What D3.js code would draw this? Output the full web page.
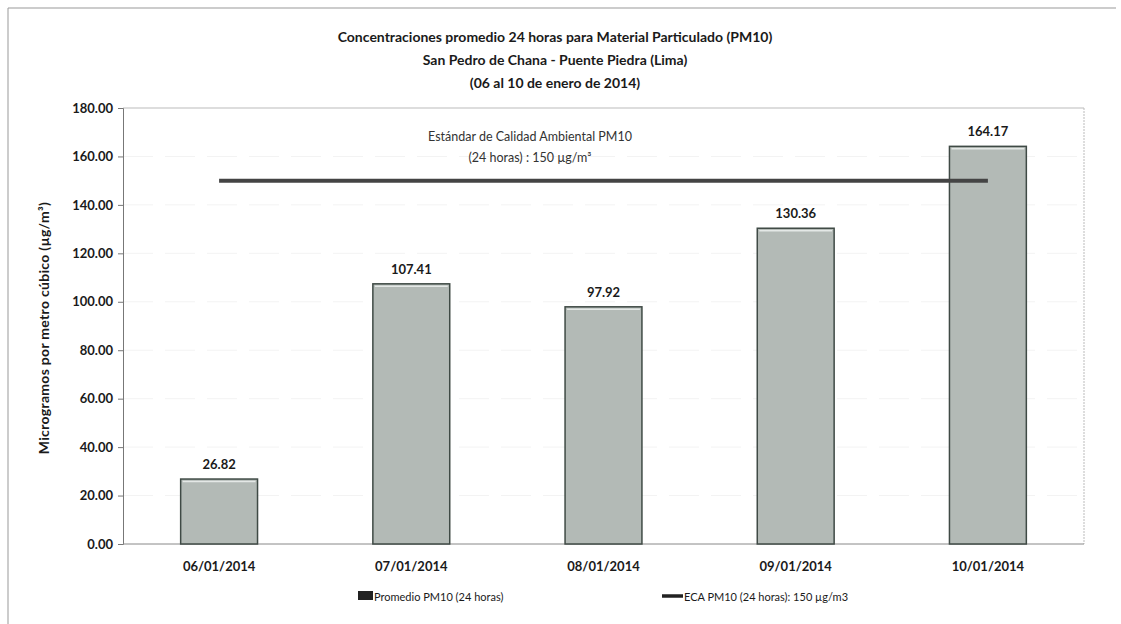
<!DOCTYPE html>
<html>
<head>
<meta charset="utf-8">
<script src="https://cdn.jsdelivr.net/npm/d3@7"></script>
<style>
  body { margin: 0; background: #fff; }
  text { font-family: Lato, "Open Sans", sans-serif; fill: #1a1a1a; }
</style>
</head>
<body>
<div id="chart"></div>
<script>
var fechas = ["06/01/2014", "07/01/2014", "08/01/2014", "09/01/2014", "10/01/2014"];
var promedio = [26.82, 107.41, 97.92, 130.36, 164.17];
var eca = [150, 150, 150, 150, 150];
var yTicks = [0, 20, 40, 60, 80, 100, 120, 140, 160, 180];
var titulo = ["Concentraciones promedio 24 horas para Material Particulado (PM10)",
              "San Pedro de Chana - Puente Piedra (Lima)",
              "(06 al 10 de enero de 2014)"];

var width = 1121, height = 624;
var plotLeft = 123, plotRight = 1084, plotTop = 108, plotBottom = 544;

var svg = d3.select("#chart").append("svg").attr("width", width).attr("height", height);

// outer frame (only top and left edges are visible in the scan)
svg.append("line").attr("x1", 8).attr("x2", 1116).attr("y1", 8).attr("y2", 8)
	.style("stroke", "#999").style("stroke-width", 1);
svg.append("line").attr("x1", 8).attr("x2", 8).attr("y1", 8).attr("y2", 624)
	.style("stroke", "#999").style("stroke-width", 1);

var x = d3.scaleBand().domain(fechas).range([plotLeft, plotRight]).paddingInner(0.6).paddingOuter(0.3);
var y = d3.scaleLinear().domain([0, 180]).range([plotBottom, plotTop]);

// plot area border
svg.append("line").attr("x1", plotLeft).attr("x2", plotRight).attr("y1", plotTop).attr("y2", plotTop)
	.style("stroke", "#bbb");
svg.append("line").attr("x1", plotRight).attr("x2", plotRight).attr("y1", plotTop).attr("y2", plotBottom)
	.style("stroke", "#bbb").style("stroke-dasharray", "2,1");

// faint gridlines
svg.append("g").selectAll("line")
	.data(yTicks.slice(1, -1))
	.enter().append("line")
		.attr("x1", plotLeft).attr("x2", plotRight)
		.attr("y1", d => y(d)).attr("y2", d => y(d))
		.style("stroke", "#f3f3f3").style("stroke-dasharray", "30,12");

// y axis
var yAxis = svg.append("g").attr("transform", "translate(" + plotLeft + ",0)")
	.call(d3.axisLeft(y).tickValues(yTicks).tickFormat(d3.format(".2f")).tickSize(5).tickPadding(5));
yAxis.select(".domain").style("stroke", "#777");
yAxis.selectAll(".tick line").style("stroke", "#777");
yAxis.selectAll("text").style("font-size", "13px").style("font-weight", "bold").style("fill", "#1a1a1a")
	.style("font-family", "Lato, sans-serif");

// baseline
svg.append("line").attr("x1", plotLeft).attr("x2", plotRight).attr("y1", plotBottom).attr("y2", plotBottom)
	.style("stroke", "#888");

// bars
var bars = svg.append("g").selectAll("g")
	.data(promedio)
	.enter().append("g");

bars.append("rect")
	.attr("x", (d, i) => x(fechas[i]))
	.attr("y", d => y(d))
	.attr("width", x.bandwidth())
	.attr("height", d => plotBottom - y(d))
	.style("fill", "#b3bab6")
	.style("stroke", "#3f4a45")
	.style("stroke-width", 1.5);

bars.append("line")
	.attr("x1", (d, i) => x(fechas[i]) + 2)
	.attr("x2", (d, i) => x(fechas[i]) + x.bandwidth() - 2)
	.attr("y1", d => y(d) + 2.5).attr("y2", d => y(d) + 2.5)
	.style("stroke", "#e4e8e6").style("stroke-width", 1.5);

bars.append("text")
	.attr("x", (d, i) => x(fechas[i]) + x.bandwidth() / 2)
	.attr("y", d => y(d) - 10)
	.attr("text-anchor", "middle")
	.style("font-size", "13px").style("font-weight", "bold")
	.text(d => d3.format(".2f")(d));

// ECA line
var linea = d3.line()
	.x((d, i) => x(fechas[i]) + x.bandwidth() / 2)
	.y(d => y(d));
svg.append("path").datum(eca)
	.attr("d", linea)
	.style("fill", "none").style("stroke", "#444").style("stroke-width", 4);

// x labels
svg.append("g").selectAll("text")
	.data(fechas)
	.enter().append("text")
		.attr("x", d => x(d) + x.bandwidth() / 2)
		.attr("y", 571)
		.attr("text-anchor", "middle")
		.style("font-size", "13px").style("font-weight", "bold")
		.text(d => d);

// titles
svg.append("g").selectAll("text")
	.data(titulo)
	.enter().append("text")
		.attr("x", 555)
		.attr("y", (d, i) => 42 + i * 23)
		.attr("text-anchor", "middle")
		.style("font-size", "14px").style("font-weight", "bold")
		.text(d => d);

// standard annotation
svg.append("text").attr("x", 530).attr("y", 141).attr("text-anchor", "middle")
	.style("font-size", "12.5px").style("fill", "#333")
	.text("Estándar de Calidad Ambiental  PM10");
svg.append("text").attr("x", 530).attr("y", 162).attr("text-anchor", "middle")
	.style("font-size", "12.5px").style("fill", "#333")
	.text("(24 horas) : 150 µg/m³");

// y title
svg.append("text")
	.attr("transform", "translate(49," + 328 + ") rotate(-90)")
	.attr("text-anchor", "middle")
	.style("font-size", "14px").style("font-weight", "bold")
	.style("letter-spacing", "0.3px")
	.text("Microgramos por metro cúbico (µg/m³)");

// legend
var leg = svg.append("g").attr("transform", "translate(0,597)");
leg.append("rect").attr("x", 358).attr("y", -6).attr("width", 15).attr("height", 9).style("fill", "#222");
leg.append("text").attr("x", 374).attr("y", 3.5).style("font-size", "11px").text("Promedio PM10 (24 horas)");
leg.append("line").attr("x1", 662).attr("x2", 683).attr("y1", -1).attr("y2", -1)
	.style("stroke", "#222").style("stroke-width", 3.5);
leg.append("text").attr("x", 684).attr("y", 3.5).style("font-size", "11px").text("ECA PM10 (24 horas): 150 µg/m3");
</script>
</body>
</html>
